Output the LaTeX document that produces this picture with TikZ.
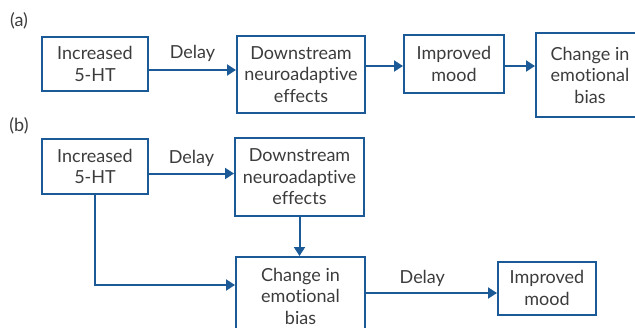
\documentclass[tikz,border=0pt]{standalone}
\usepackage{fontspec}
\setmainfont{Lato}[Ligatures=NoCommon]
\usepackage{tikz}
\usetikzlibrary{
  arrows.meta,
  positioning,  % Function "of" (e.g. [right=of x])
}
\definecolor{boxblue}{RGB}{27,90,150}
\definecolor{txtgray}{RGB}{60,60,60}
\tikzset{
  my box/.style={
    draw=boxblue,
    line width=2pt,
    text=txtgray,
    align=center,
    inner sep=1mm,
    font=\fontsize{18}{21.5}\selectfont,
    rectangle
  },
  my label/.style={
    text=txtgray,
    font=\fontsize{18}{21.5}\selectfont
  },
  my arrow/.style={
    draw=boxblue,
    line width=2pt,
    -{Triangle[length=9pt,width=11pt]}
  },
  flow/.style={
    x=1pt,
    y=-1pt
  }
}

\begin{document}
\begin{tikzpicture}[flow]
\useasboundingbox (0,0) rectangle (635,327);
\node[my label] (la) at (19,21)  {(a)};
\node[my box,minimum width=106pt,minimum height=54pt,anchor=north west] (a1) at (41,36) {Increased\\5-HT};
\node[my box,minimum width=128pt,minimum height=77pt] (a2) [right=87pt of a1.north east,anchor=north west,yshift=1pt] {Downstream\\neuroadaptive\\effects};
\node[my box,minimum width=100pt,minimum height=58pt] (a3) [right=37pt of a2.north east,anchor=north west,yshift=1pt] {Improved\\mood};
\node[my box,minimum width=108pt,minimum height=84pt] (a4) [right=30pt of a3.north east,anchor=north west,yshift=2pt] {Change in\\emotional\\bias};
\draw[my arrow] ([yshift=-6pt]a1.east) -- ([yshift=-6pt]a1.east -| a2.west)
  node[my label,midway,anchor=south,yshift=4pt] {Delay};
\draw[my arrow] ([yshift=-2pt]a3.west -| a2.east) -- ([yshift=-2pt]a3.west);
\draw[my arrow] ([yshift=-2pt]a3.east) -- ([yshift=-2pt]a3.east -| a4.west);

\node[my label] (lb) at (19,126) {(b)};
\node[my box,minimum width=106pt,minimum height=55pt] (b1) [below=46pt of a1.south west,anchor=north west] {Increased\\5-HT};
\node[my box,minimum width=129pt,minimum height=78pt] (b2) [right=85pt of b1.north east,anchor=north west,yshift=1pt] {Downstream\\neuroadaptive\\effects};
\node[my box,minimum width=129pt,minimum height=78pt] (b3) [below=39pt of b2.south,xshift=1pt] {Change in\\emotional\\bias};
\node[my box,minimum width=98pt,minimum height=53pt] (b4) [right=131pt of b3.east,yshift=8pt] {Improved\\mood};
\draw[my arrow] ([yshift=-7pt]b1.east) -- ([yshift=-7pt]b1.east -| b2.west)
  node[my label,midway,anchor=south,yshift=3pt] {Delay};
\draw[my arrow] (b2.south) -- (b2.south |- b3.north);
\draw[my arrow] (b1.south) |- ([yshift=11pt]b3.west);
\draw[my arrow] ([yshift=3pt]b3.east) -- ([yshift=3pt]b3.east -| b4.west)
  node[my label,pos=0.43,anchor=south,yshift=2pt] {Delay};
\end{tikzpicture}
\end{document}
